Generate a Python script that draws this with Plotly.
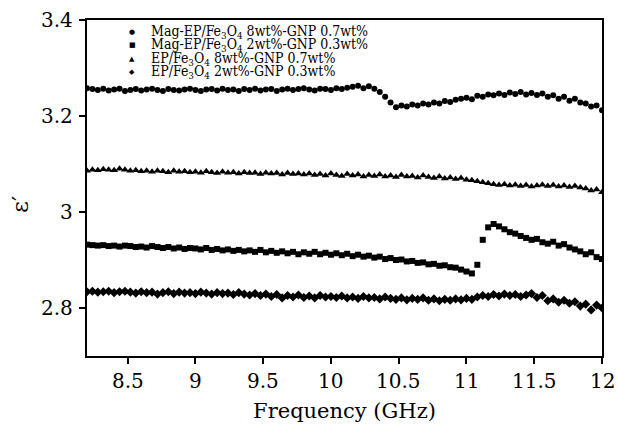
import numpy as np
import plotly.graph_objects as go

# Frequency grid (GHz)
freq = [round(8.2 + 0.04 * k, 2) for k in range(96)]

mag_8 = [3.258, 3.256, 3.254, 3.257, 3.253, 3.255, 3.257, 3.252, 3.254, 3.256,
         3.253, 3.255, 3.257, 3.254, 3.252, 3.256, 3.254, 3.253, 3.255, 3.257,
         3.254, 3.252, 3.255, 3.256, 3.253, 3.257, 3.254, 3.255, 3.252, 3.256,
         3.254, 3.257, 3.253, 3.255, 3.256, 3.252, 3.255, 3.257, 3.254, 3.256,
         3.258, 3.255, 3.253, 3.257, 3.256, 3.254, 3.258, 3.256, 3.259, 3.261,
         3.263, 3.258, 3.262, 3.257, 3.250, 3.240, 3.228, 3.218, 3.222, 3.220,
         3.224, 3.222, 3.226, 3.224, 3.228, 3.226, 3.231, 3.229, 3.234, 3.236,
         3.238, 3.235, 3.242, 3.240, 3.245, 3.243, 3.247, 3.244, 3.249, 3.246,
         3.250, 3.245, 3.248, 3.244, 3.247, 3.240, 3.243, 3.236, 3.240, 3.232,
         3.236, 3.228, 3.226, 3.220, 3.222, 3.212]

mag_2 = [2.932, 2.931, 2.930, 2.931, 2.929, 2.930, 2.928, 2.930, 2.929, 2.927,
         2.928, 2.926, 2.929, 2.927, 2.925, 2.927, 2.924, 2.926, 2.923, 2.925,
         2.924, 2.922, 2.925, 2.921, 2.923, 2.920, 2.922, 2.919, 2.921, 2.918,
         2.920, 2.917, 2.921, 2.916, 2.919, 2.915, 2.918, 2.914, 2.917, 2.912,
         2.916, 2.913, 2.917, 2.912, 2.915, 2.911, 2.914, 2.910, 2.913, 2.908,
         2.911, 2.907, 2.909, 2.905, 2.907, 2.902, 2.904, 2.900, 2.901, 2.897,
         2.898, 2.894, 2.895, 2.891, 2.892, 2.888, 2.889, 2.885, 2.884, 2.880,
         2.876, 2.872, 2.890, 2.942, 2.968, 2.975, 2.970, 2.964, 2.958, 2.955,
         2.950, 2.946, 2.942, 2.944, 2.937, 2.934, 2.938, 2.930, 2.933, 2.926,
         2.922, 2.918, 2.912, 2.916, 2.906, 2.902]

ep_8 = [3.086, 3.088, 3.087, 3.089, 3.088, 3.087, 3.090, 3.088, 3.086, 3.087,
        3.085, 3.086, 3.084, 3.086, 3.085, 3.083, 3.086, 3.084, 3.085, 3.083,
        3.084, 3.082, 3.085, 3.083, 3.081, 3.084, 3.082, 3.083, 3.080, 3.083,
        3.081, 3.082, 3.079, 3.082, 3.080, 3.081, 3.078, 3.081, 3.079, 3.080,
        3.078, 3.080, 3.077, 3.079, 3.076, 3.080, 3.077, 3.075, 3.079, 3.076,
        3.078, 3.074, 3.077, 3.075, 3.078, 3.074, 3.076, 3.073, 3.077, 3.074,
        3.075, 3.072, 3.076, 3.073, 3.071, 3.074, 3.070, 3.072, 3.069, 3.071,
        3.067, 3.066, 3.064, 3.062, 3.060, 3.058, 3.056, 3.058, 3.055, 3.057,
        3.054, 3.056, 3.053, 3.055, 3.057, 3.054, 3.056, 3.053, 3.055, 3.052,
        3.054, 3.051, 3.049, 3.045, 3.047, 3.041]

ep_2 = [2.834, 2.835, 2.833, 2.834, 2.835, 2.832, 2.834, 2.835, 2.833, 2.831,
        2.834, 2.832, 2.833, 2.829, 2.832, 2.834, 2.830, 2.833, 2.831, 2.832,
        2.830, 2.833, 2.831, 2.829, 2.832, 2.830, 2.831, 2.828, 2.832, 2.829,
        2.827, 2.830, 2.826, 2.829, 2.824, 2.828, 2.821, 2.826, 2.823, 2.827,
        2.822, 2.825, 2.821, 2.826, 2.823, 2.824, 2.822, 2.825, 2.821, 2.823,
        2.820, 2.824, 2.821, 2.822, 2.819, 2.823, 2.820, 2.818, 2.821, 2.817,
        2.820, 2.818, 2.821, 2.816, 2.819, 2.815, 2.818, 2.816, 2.819, 2.817,
        2.820, 2.818, 2.823, 2.826, 2.824, 2.828, 2.825, 2.829, 2.826, 2.828,
        2.824, 2.827, 2.830, 2.822, 2.826, 2.815, 2.819, 2.812, 2.816, 2.810,
        2.813, 2.804, 2.808, 2.796, 2.806, 2.800]

names = ["Mag-EP/Fe<sub>3</sub>O<sub>4</sub> 8wt%-GNP 0.7wt%",
         "Mag-EP/Fe<sub>3</sub>O<sub>4</sub> 2wt%-GNP 0.3wt%",
         "EP/Fe<sub>3</sub>O<sub>4</sub> 8wt%-GNP 0.7wt%",
         "EP/Fe<sub>3</sub>O<sub>4</sub> 2wt%-GNP 0.3wt%"]
series = [mag_8, mag_2, ep_8, ep_2]
symbols = ["circle", "square", "triangle-up", "diamond"]
legend_glyphs = ["●", "■", "▲", "◆"]
sizes = [6, 6, 7, 7]

x_ticks = [8.5, 9, 9.5, 10, 10.5, 11, 11.5, 12]
x_text = ["8.5", "9", "9.5", "10", "10.5", "11", "11.5", "12"]
y_ticks = [2.8, 3.0, 3.2, 3.4]
y_text = ["2.8", "3", "3.2", "3.4"]

SERIF = "DejaVu Serif"
TICKFONT = dict(family=SERIF, size=20, color="black")

fig = go.Figure()
for nm, ys, sym, sz in zip(names, series, symbols, sizes):
    fig.add_trace(go.Scatter(x=freq, y=ys, mode="markers", name=nm,
                             showlegend=False,
                             marker=dict(symbol=sym, size=sz, color="black",
                                         line=dict(width=0))))

L, R, T, B = 87, 15, 20, 71
W, H = 617 - L - R, 427 - T - B
annotations = []

# Tick labels as annotations placed through the axes' own scales (serif font)
for v, t in zip(x_ticks, x_text):
    annotations.append(dict(x=v, xref="x", y=0, yref="paper", text=t, showarrow=False,
                            xanchor="center", yanchor="top", yshift=-11, font=TICKFONT))
for v, t in zip(y_ticks, y_text):
    annotations.append(dict(x=0, xref="paper", y=v, yref="y", text=t, showarrow=False,
                            xanchor="right", yanchor="middle", xshift=-12, font=TICKFONT))

# y-axis title
annotations.append(dict(x=(20 - L) / W, xref="paper", y=1 - (205 - T) / H, yref="paper",
                        text="ε′", showarrow=False, textangle=-90,
                        xanchor="center", yanchor="middle",
                        font=dict(family=SERIF, size=23, color="black")))

# Compact legend drawn as text (reference rows are ~13 px apart)
row_px = [32, 45, 59, 72]
for i, (nm, g) in enumerate(zip(names, legend_glyphs)):
    yp = 1 - (row_px[i] - T) / H
    annotations.append(dict(x=(132 - L) / W, y=yp, xref="paper", yref="paper",
                            text=g, showarrow=False, xanchor="center", yanchor="middle",
                            font=dict(family="DejaVu Sans", size=7, color="black")))
    annotations.append(dict(x=(149 - L) / W, y=yp, xref="paper", yref="paper",
                            text=nm, showarrow=False, xanchor="left", yanchor="middle",
                            font=dict(family="DejaVu Serif Condensed", size=14, color="black")))

fig.update_layout(
    width=617, height=427,
    margin=dict(l=L, r=R, t=T, b=B),
    plot_bgcolor="white", paper_bgcolor="white",
    font=dict(family=SERIF, color="black", size=20),
    showlegend=False,
    annotations=annotations,
    xaxis=dict(range=[8.2, 12.0], tickvals=x_ticks, showticklabels=False,
               ticks="outside", ticklen=6, tickcolor="black", tickwidth=1.5,
               showline=True, linecolor="black", linewidth=2, mirror=True,
               showgrid=False, zeroline=False, automargin=False,
               title=dict(text="Frequency (GHz)", font=dict(family=SERIF, size=21), standoff=40)),
    yaxis=dict(range=[2.7, 3.4], tickvals=y_ticks, showticklabels=False,
               ticks="outside", ticklen=6, tickcolor="black", tickwidth=1.5,
               showline=True, linecolor="black", linewidth=2, mirror=True,
               showgrid=False, zeroline=False, automargin=False),
)

fig.write_html("out.html")
